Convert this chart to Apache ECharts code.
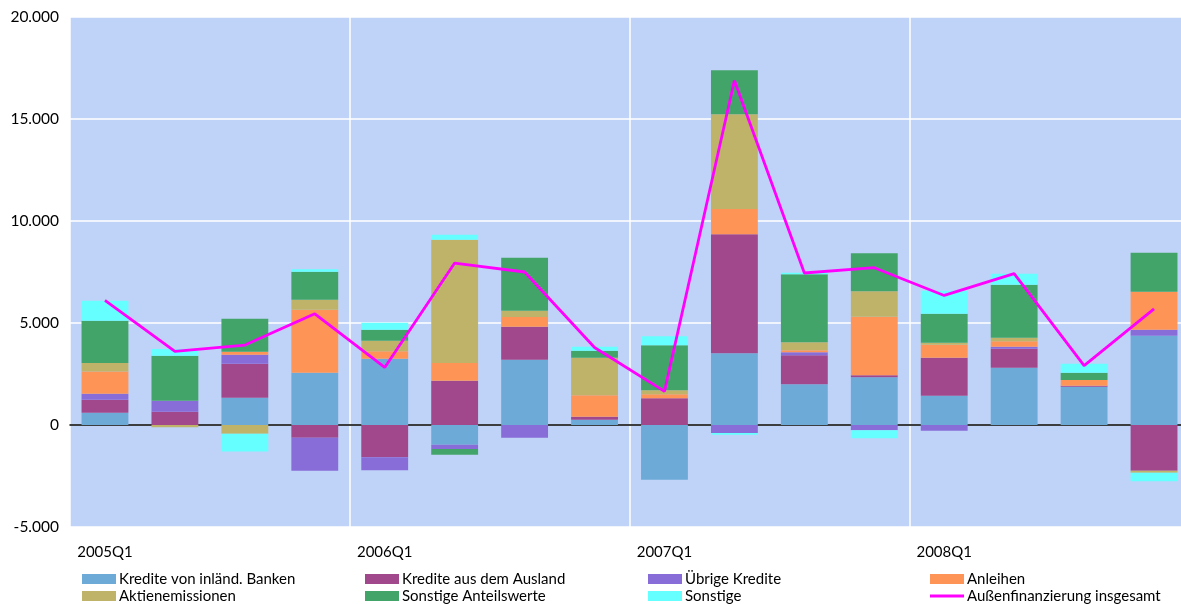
<!DOCTYPE html>
<html>
<head>
<meta charset="utf-8">
<script src="https://cdn.jsdelivr.net/npm/echarts@6/dist/echarts.min.js"></script>
<style>
  html, body { margin: 0; padding: 0; background: #ffffff; overflow: hidden; }
  #chart { width: 1189px; height: 604px; }
</style>
</head>
<body>
<div id="chart"></div>
<script>
// Quarters 2005Q1 – 2008Q4
const quarters = [
  '2005Q1','2005Q2','2005Q3','2005Q4',
  '2006Q1','2006Q2','2006Q3','2006Q4',
  '2007Q1','2007Q2','2007Q3','2007Q4',
  '2008Q1','2008Q2','2008Q3','2008Q4'
];

// Components of external financing (Mio.)
const krediteInland   = [600, 0, 1340, 2565, 3250, -964, 3203, 261, -2680, 3513, 1993, 2337, 1438, 2810, 1879, 4379];
const krediteAusland  = [640, 650, 1667, -620, -1585, 2173, 1618, 147, 1307, 5833, 1422, 98, 1863, 931, 49, -2239];
const uebrigeKredite  = [290, 540, 440, -1617, -637, -212, -621, 0, 0, -392, 147, -261, -278, 98, 0, 294];
const anleihen        = [1090, 0, 147, 3090, 360, 866, 474, 1046, 196, 1242, 98, 2876, 637, 261, 278, 1863];
const aktien          = [425, -115, -425, 490, 523, 6046, 310, 1846, 196, 4640, 392, 1242, 98, 180, 0, -98];
const anteilswerte    = [2060, 2205, 1618, 1370, 540, -278, 2598, 343, 2206, 2157, 3333, 1863, 1422, 2598, 359, 1912];
const sonstige        = [980, 330, -880, 120, 343, 245, 0, 196, 441, -82, 82, -392, 1127, 539, 441, -425];
const insgesamt       = [6110, 3610, 3920, 5450, 2820, 7940, 7500, 3800, 1650, 16890, 7450, 7710, 6350, 7420, 2910, 5690];

// Axis ticks
const yTicks = [-5000, 0, 5000, 10000, 15000, 20000];

const FONT = 'Lato, "Open Sans", sans-serif';

const barSeries = [
  { name: 'Kredite von inländ. Banken', data: krediteInland,  color: '#6eaad8' },
  { name: 'Kredite aus dem Ausland',    data: krediteAusland, color: '#a1478b' },
  { name: 'Übrige Kredite',             data: uebrigeKredite, color: '#886dd8' },
  { name: 'Anleihen',                   data: anleihen,       color: '#fe9456' },
  { name: 'Aktienemissionen',           data: aktien,         color: '#bfb369' },
  { name: 'Sonstige Anteilswerte',      data: anteilswerte,   color: '#43a469' },
  { name: 'Sonstige',                   data: sonstige,       color: '#66ffff' }
];
const lineName = 'Außenfinanzierung insgesamt';

const fmt = v => {
  const s = Math.abs(v).toString().replace(/\B(?=(\d{3})+(?!\d))/g, '.');
  return (v < 0 ? '-' : '') + s;
};

// One legend entry per component, laid out in four columns and two rows
const colX = [82, 365, 648, 930];
const rowY = [579, 596];
const legendItem = (name, col, row, h) => ({
  left: colX[col],
  top: rowY[row] - 9,
  height: 18,
  orient: 'horizontal',
  itemWidth: 34,
  itemHeight: h,
  padding: 0,
  icon: 'rect',
  textStyle: { fontFamily: FONT, fontSize: 15, color: '#000', padding: [0, 0, 0, -2], lineHeight: 18 },
  data: [name]
});

const chart = echarts.init(document.getElementById('chart'), null, { renderer: 'canvas' });

chart.setOption({
  animation: false,
  textStyle: { fontFamily: FONT },
  grid: {
    left: 70, right: 0, top: 17, bottom: 77,
    show: true, backgroundColor: '#bfd3f8', borderWidth: 0
  },
  legend: [
    legendItem('Kredite von inländ. Banken', 0, 0, 10),
    legendItem('Kredite aus dem Ausland',    1, 0, 10),
    legendItem('Übrige Kredite',             2, 0, 10),
    legendItem('Anleihen',                   3, 0, 10),
    legendItem('Aktienemissionen',           0, 1, 10),
    legendItem('Sonstige Anteilswerte',      1, 1, 10),
    legendItem('Sonstige',                   2, 1, 10),
    legendItem(lineName,                     3, 1, 3)
  ],
  xAxis: {
    type: 'category',
    data: quarters,
    boundaryGap: true,
    axisLine: { show: true, onZero: true, lineStyle: { color: '#000', width: 1.5 } },
    axisTick: { show: false },
    axisLabel: {
      interval: 3,
      fontFamily: FONT, fontSize: 15, color: '#000',
      margin: 18
    },
    splitLine: { show: true, interval: 3, lineStyle: { color: '#ffffff', width: 1.5 } }
  },
  yAxis: {
    type: 'value',
    min: yTicks[0],
    max: yTicks[yTicks.length - 1],
    interval: 5000,
    axisLine: { show: false },
    axisTick: { show: false },
    axisLabel: {
      fontFamily: FONT, fontSize: 15.5, color: '#000', margin: 11,
      formatter: fmt
    },
    splitLine: { show: true, lineStyle: { color: '#ffffff', width: 1.5 } }
  },
  series: [
    ...barSeries.map(s => ({
      name: s.name,
      type: 'bar',
      stack: 'total',
      barWidth: '67%',
      data: s.data,
      itemStyle: { color: s.color },
      emphasis: { disabled: true }
    })),
    {
      name: lineName,
      type: 'line',
      data: insgesamt,
      symbol: 'none',
      showSymbol: false,
      z: 10,
      lineStyle: { color: '#ff00ff', width: 2.8 },
      itemStyle: { color: '#ff00ff' }
    }
  ]
});
</script>
</body>
</html>
